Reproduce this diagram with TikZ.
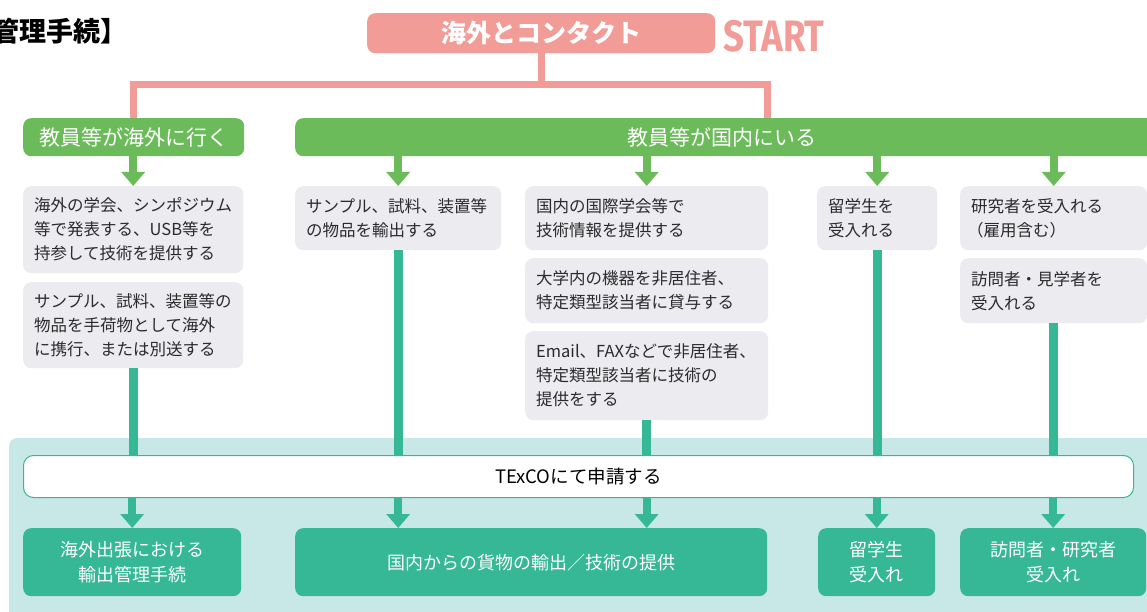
\documentclass[tikz,border=0pt]{standalone}
\usepackage{fontspec}
\setmainfont{Noto Sans CJK JP}
\newfontfamily\startfont{Fira Sans}
\usetikzlibrary{arrows.meta}
\definecolor{pinkc}{HTML}{F29C97}
\definecolor{greenc}{HTML}{6CBB5A}
\definecolor{greyc}{HTML}{EBEBF0}
\definecolor{tealc}{HTML}{36B796}
\definecolor{bgc}{HTML}{C8E7E7}
\definecolor{textc}{HTML}{2B2B2B}
\begin{document}
\begin{tikzpicture}[x=1pt,y=-1pt,
  greybox/.style={fill=greyc, rounded corners=8pt, anchor=north west, inner sep=0pt,
    align=left, text=textc, font=\fontsize{16.5}{24}\selectfont},
  hdr/.style={fill=greenc, rounded corners=8pt, anchor=north west, inner sep=0pt,
    text=white, font=\fontsize{21}{24}\selectfont},
  tealbox/.style={fill=tealc, rounded corners=8pt, anchor=north west, inner sep=0pt,
    align=center, text=white, font=\fontsize{18}{25}\selectfont},
  pinkline/.style={draw=pinkc, line width=7pt, line join=miter},
  garrow/.style={draw=greenc, line width=8pt, -{Triangle[width=23pt,length=14pt]}},
  tline/.style={draw=tealc, line width=9pt},
  tarrow/.style={draw=tealc, line width=8pt, -{Triangle[width=23pt,length=14pt]}},
]
\useasboundingbox (0,0) rectangle (1147,612);

% title (cut off at the left edge, as in the reference)
\node[anchor=west, inner sep=0pt, font=\fontsize{27}{29}\selectfont\bfseries, text=black] (title) at (-8,31) {管理手続】};

% background
\fill[bgc, rounded corners=8pt] (9,438) rectangle (1170,630);

% top
\node[fill=pinkc, rounded corners=8pt, anchor=north west, inner sep=0pt, minimum width=348pt, minimum height=40pt,
  text=white, font=\fontsize{25}{27}\selectfont\bfseries] (top) at (367,13) {海外とコンタクト};
\node[anchor=center, inner sep=0pt, text=pinkc, font=\fontsize{44}{46}\startfont\bfseries] (start) at (774,36) {\scalebox{0.83}[1]{START}};

% headers
\node[hdr, minimum width=221pt, minimum height=38pt] (hdrL) at (23,118) {教員等が海外に行く};
\node[hdr, minimum width=870pt, minimum height=38pt] (hdrR) at (295,118) {\hspace*{-16pt}教員等が国内にいる};

% pink connectors
\coordinate (pr) at (767,118);
\coordinate (jR) at (767,85);
\draw[pinkline] (top.south) -- (top.south |- jR);
\draw[pinkline] (hdrL.north) |- (jR) -- (pr);

% grey boxes
\node[greybox, minimum width=220pt, minimum height=87pt, text width=198pt] (L1) at (23,186) {海外の学会、シンポジウム\\等で発表する、USB等を\\持参して技術を提供する};
\node[greybox, minimum width=220pt, minimum height=86pt, text width=198pt] (L2) at (23,282) {サンプル、試料、装置等の\\物品を手荷物として海外\\に携行、または別送する};
\node[greybox, minimum width=206pt, minimum height=64pt, text width=184pt] (C1) at (295,186) {サンプル、試料、装置等\\の物品を輸出する};
\node[greybox, minimum width=243pt, minimum height=64pt, text width=221pt] (C2) at (525,186) {国内の国際学会等で\\技術情報を提供する};
\node[greybox, minimum width=243pt, minimum height=65pt, text width=221pt] (C3) at (525,258) {大学内の機器を非居住者、\\特定類型該当者に貸与する};
\node[greybox, minimum width=243pt, minimum height=89pt, text width=221pt] (C4) at (525,331) {Email、FAXなどで非居住者、\\特定類型該当者に技術の\\提供をする};
\node[greybox, minimum width=120pt, minimum height=64pt, text width=98pt] (R1) at (817,186) {留学生を\\受入れる};
\node[greybox, minimum width=187pt, minimum height=64pt, text width=165pt] (R2) at (960,186) {研究者を受入れる\\\hspace*{-4pt}（雇用含む）};
\node[greybox, minimum width=187pt, minimum height=65pt, text width=165pt] (R3) at (960,258) {訪問者・見学者を\\受入れる};

% green arrows
\draw[garrow] (hdrL.south -| L1.north) -- (L1.north);
\draw[garrow] (hdrR.south -| C1.north) -- (C1.north);
\draw[garrow] (hdrR.south -| C2.north) -- (C2.north);
\draw[garrow] (hdrR.south -| R1.north) -- (R1.north);
\draw[garrow] (hdrR.south -| R2.north) -- (R2.north);

% TExCO bar
\node[fill=white, draw=tealc, line width=1pt, rounded corners=10pt, anchor=north west, inner sep=0pt,
  minimum width=1110pt, minimum height=42pt, text=black, font=\fontsize{18.5}{20}\selectfont] (bar) at (23,455) {TExCOにて申請する};

% bottom boxes
\node[tealbox, minimum width=218pt, minimum height=68pt] (B1) at (23,528) {海外出張における\\輸出管理手続};
\node[tealbox, minimum width=472pt, minimum height=68pt] (B2) at (295,528) {国内からの貨物の輸出／技術の提供};
\node[tealbox, minimum width=117pt, minimum height=68pt] (B3) at (818,528) {留学生\\受入れ};
\node[tealbox, minimum width=186pt, minimum height=68pt] (B4) at (960,528) {訪問者・研究者\\受入れ};

% teal lines into bar
\draw[tline] (L2.south) -- (L2.south |- bar.north);
\draw[tline] (C1.south) -- (C1.south |- bar.north);
\draw[tline] (C4.south) -- (C4.south |- bar.north);
\draw[tline] (R1.south) -- (R1.south |- bar.north);
\draw[tline] (R3.south) -- (R3.south |- bar.north);

% teal arrows out of bar
\draw[tarrow] (bar.south -| B1.north) -- (B1.north);
\draw[tarrow] (bar.south -| C1.south) -- (C1.south |- B2.north);
\draw[tarrow] (bar.south -| C4.south) -- (C4.south |- B2.north);
\draw[tarrow] (bar.south -| B3.north) -- (B3.north);
\draw[tarrow] (bar.south -| B4.north) -- (B4.north);
\end{tikzpicture}
\end{document}
